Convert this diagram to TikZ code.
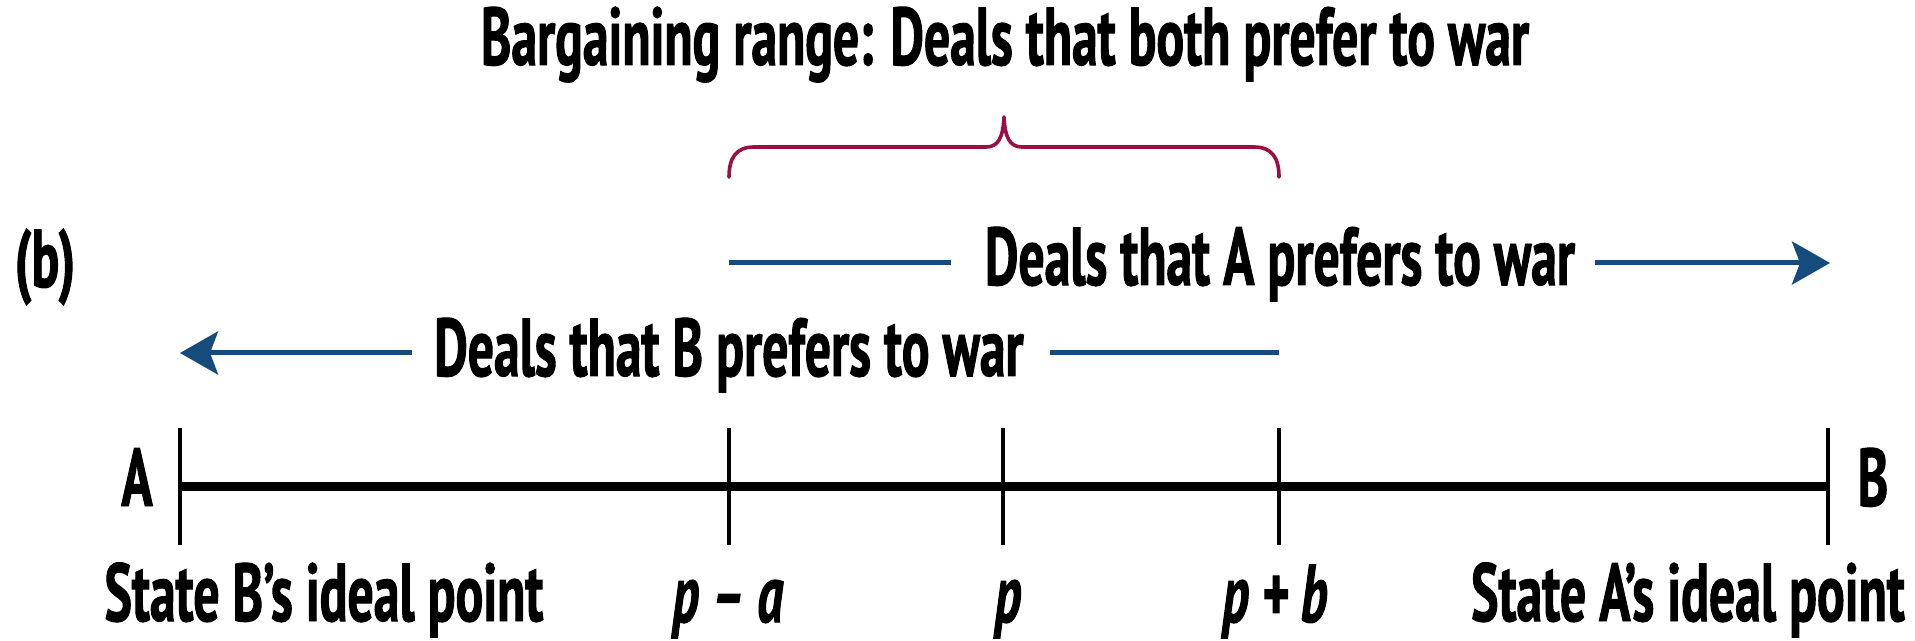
\documentclass[tikz,border=0pt]{standalone}
\usepackage{fontspec}
\setmainfont{PT Sans}[FakeStretch=0.63, FakeBold=1.2]
\usetikzlibrary{arrows.meta}
\definecolor{dealblue}{RGB}{22,75,125}
\definecolor{bracered}{RGB}{155,15,70}
\begin{document}
\begin{tikzpicture}[x=0.5pt,y=-0.5pt,
  lbl/.style={font=\fontsize{41}{48}\selectfont\bfseries, inner sep=0pt, anchor=base},
  axisline/.style={line width=4.2pt, black},
  tickline/.style={line width=2.4pt, black},
  blueline/.style={line width=2.5pt, dealblue},
  bluehead/.style={-{Stealth[length=19pt,width=21.5pt,inset=4pt]}},
  bracestyle/.style={line width=1.8pt, bracered, line cap=round, line join=round}]
\useasboundingbox (0,0) rectangle (1915,641);

% title and brace
\node[lbl] (title) at (1005,65) {Bargaining range: Deals that both prefer to war};
\coordinate (brL) at (729,177);
\coordinate (brR) at (1279,177);
\coordinate (brT) at (1004,117);
\draw[bracestyle] (brL) .. controls (729,158) and (736,147) .. (754,147) -- (986,147)
  .. controls (998,147) and (1003,138) .. (brT)
  .. controls (1005,138) and (1010,147) .. (1022,147) -- (1254,147)
  .. controls (1272,147) and (1279,158) .. (brR);

% (b)
\node[lbl] (lb) at (45,287) {(b)};

% A prefers
\coordinate (aS) at (729,263);
\coordinate (aE) at (1830,263);
\node[lbl] (tA) at (1280,285) {Deals that A prefers to war};
\draw[blueline, shorten >=17pt] (aS) -- (aS -| tA.west);
\draw[blueline, bluehead, shorten <=10pt] (aE -| tA.east) -- (aE);

% B prefers
\coordinate (bS) at (1279,353);
\coordinate (bE) at (180,353);
\node[lbl] (tB) at (729,376) {Deals that B prefers to war};
\draw[blueline, shorten >=13pt] (bS) -- (bS -| tB.east);
\draw[blueline, bluehead, shorten <=11pt] (bE -| tB.west) -- (bE);

% axis
\coordinate (a0) at (180,486.5);
\coordinate (a1) at (729,486.5);
\coordinate (a2) at (1003,486.5);
\coordinate (a3) at (1279,486.5);
\coordinate (a4) at (1828,486.5);
\draw[axisline] (a0) -- (a4);
\foreach \c in {a0,a1,a2,a3,a4}
  \draw[tickline] (\c) ++(0,-58.5) -- ++(0,117);

\node[lbl] (lA) at (137,506) {A};
\node[lbl] (lB) at (1873,506) {B};

% bottom labels
\node[lbl] (sB) at (324,621) {State B’s ideal point};
\node[lbl] (pa) at (728,622) {\itshape p – a};
\node[lbl] (pp) at (1008,622) {\itshape p};
\node[lbl] (pb) at (1275,622) {\itshape p + b};
\node[lbl] (sA) at (1688,621) {State A’s ideal point};
\end{tikzpicture}
\end{document}
